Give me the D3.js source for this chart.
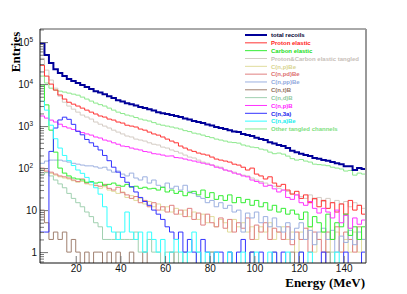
<!DOCTYPE html>
<html>
<head>
<meta charset="utf-8">
<script src="https://cdn.jsdelivr.net/npm/d3@7"></script>
<style>
  body { margin: 0; background: #fff; }
  svg { display: block; }
</style>
</head>
<body>
<div id="chart"></div>
<script>
// bins are 2 MeV wide, 4 -> 150 MeV
const binStart = 4
const binWidth = 2

const totalRecoils = [95000, 49000, 32000, 22700, 18300, 15500, 13200, 11800, 10600, 9460, 8500, 7600, 6800, 6300, 5760, 5150, 4650, 4150, 3830, 3500, 3330, 3080, 2830, 2680, 2530, 2350, 2150, 2030, 1940, 1830, 1740, 1640, 1510, 1430, 1320, 1250, 1180, 1090, 1030, 950, 900, 850, 800, 740, 720, 650, 610, 580, 530, 490, 465, 415, 383, 355, 335, 300, 260, 240, 220, 204, 193, 174, 168, 155, 150, 139, 131, 124, 111, 111, 90, 100, 95]
const protonElastic = [28000, 15500, 10000, 7200, 5500, 4400, 3700, 3330, 3000, 2680, 2400, 2150, 1940, 1740, 1640, 1470, 1390, 1250, 1180, 1050, 1000, 950, 850, 800, 720, 650, 610, 550, 490, 440, 400, 335, 300, 270, 250, 228, 215, 204, 183, 164, 155, 147, 139, 124, 118, 105, 90, 100, 72, 65, 55, 62, 44, 37, 41, 30, 24, 28, 19, 23, 15, 19, 12, 17, 11, 15, 9, 14, 8, 17, 10, 13, 8]
const carbonElastic = [9500, 3200, 800, 240, 100, 76, 65, 58, 55, 52, 46, 48, 44, 46, 39, 41, 44, 39, 37, 41, 35, 37, 33, 35, 32, 33, 30, 35, 27, 30, 25, 28, 22, 26, 28, 23, 30, 20, 26, 18, 22, 17, 23, 15, 20, 15, 18, 13, 17, 12, 15, 10, 13, 9, 11, 8, 10, 8, 6, 9, 4, 7, 5, 3, 8, 2, 5, 4, 8, 2.5, 4, 2, 4]
const elasticTangled = [41000, 21500, 12500, 8000, 5150, 3700, 3000, 2530, 2150, 1830, 1640, 1470, 1250, 1110, 1000, 900, 800, 720, 650, 580, 550, 490, 465, 440, 400, 370, 355, 316, 300, 270, 250, 228, 204, 183, 174, 155, 139, 131, 118, 111, 105, 90, 85, 80, 72, 68, 65, 58, 52, 48, 44, 39, 37, 33, 30, 28, 25, 23, 21, 19, 23, 18, 20, 16, 19, 15, 17, 14, 16, 12, 15, 13, 11]
const cnpBe = [90, 80, 75, 68, 62, 58, 55, 50, 46, 48, 42, 40, 38, 33, 36, 30, 28, 25, 27, 20, 22, 17, 19, 14, 16, 12, 14, 10, 12, 9, 11, 8, 10, 7, 9, 6, 8, 5, 7, 4, 6, 5, 3, 6, 4, 5, 3, 4, 2, 4, 3, 5, 2, 3, 4, 2, 3, 1, 3, 2, 4, 1, 2, 3, 1, 2, 3, 1, 2, 1, 3, 1, 2]
const cnpdBe = [100, 85, 80, 72, 65, 62, 58, 52, 48, 55, 44, 46, 39, 37, 41, 33, 30, 35, 26, 23, 19, 21, 15, 17, 12, 15, 10, 12, 9, 13, 8, 10, 7, 11, 6, 8.5, 4.4, 8, 5, 4, 6.5, 3.7, 6, 3, 5, 3.7, 6.5, 2, 4.4, 3, 5, 2, 3.7, 3, 2, 4, 1.5, 3, 2, 3.7, 1, 3, 2, 1, 3, 2, 4, 1, 3, 2, 1, 4, 2]
const cnppBe = [130, 147, 155, 155, 155, 147, 139, 130, 124, 118, 113, 113, 107, 100, 105, 90, 80, 85, 72, 65, 76, 58, 52, 62, 44, 52, 39, 35, 44, 33, 37, 30, 39, 28, 25, 21, 19, 15, 17, 12, 15, 11, 13, 9, 10, 3, 8.5, 6.5, 9, 5, 7, 4, 6.5, 4, 3, 5, 2, 3.7, 5, 2, 3.3, 1.5, 3, 3.7, 2, 3.3, 1, 2.4, 1.7, 3.3, 1.5, 3, 2]
const cntB = [10, 5, 2, 3, 2, 3, 1, 2, 1, 0, 1, 0, 1, 1, 0, 1, 0, 1, 0, 0, 1, 0, 0, 1, 0, 0, 0, 0, 0, 1, 0, 0, 0, 0, 0, 0, 0, 0, 1, 0, 0, 0, 0, 0, 0, 0, 0, 1, 0, 0, 0, 0, 0, 0, 0, 0, 1, 0, 0, 0, 0, 0, 0, 0, 1, 0, 0, 0, 0, 0, 0, 0, 0]
const cndB = [70, 78, 65, 52, 42, 34, 25, 19, 15, 12, 9, 7, 5, 4, 2, 2, 2, 3, 2, 2, 2, 3, 1, 1, 2, 1, 1, 0, 1, 0, 1, 0, 1, 0, 0, 1, 0, 0, 1, 0, 0, 0, 1, 0, 0, 0, 0, 1, 0, 0, 0, 0, 1, 0, 0, 0, 0, 0, 1, 0, 0, 0, 0, 0, 0, 1, 0, 0, 0, 0, 0, 0, 0]
const cnpB = [1740, 1550, 1390, 1250, 1110, 970, 900, 830, 760, 700, 650, 610, 550, 520, 465, 440, 400, 370, 335, 325, 300, 283, 270, 248, 240, 220, 215, 204, 193, 195, 178, 174, 164, 155, 147, 139, 131, 124, 118, 105, 100, 90, 85, 76, 72, 65, 62, 52, 48, 44, 37, 39, 32, 27, 30, 20, 18, 23, 15, 13, 16, 11, 8.5, 11, 9, 6.5, 10, 5, 7.5, 3.7, 6.5, 4.6, 5.8]
const cn3a = [3, 3, 250, 900, 1400, 1630, 1450, 1100, 750, 620, 480, 400, 330, 270, 200, 150, 105, 80, 60, 46, 36, 27, 20, 16, 13, 10, 8, 6, 4, 3, 2, 3, 1, 2, 1, 0, 2, 1, 0, 1, 1, 0, 1, 0, 1, 2, 0, 1, 0, 1, 0, 0, 1, 0, 1, 0, 0, 0, 1, 0, 0, 0, 0, 1, 0, 0, 0, 0, 1, 0, 0, 0, 1]
const cnaBe = [3900, 2400, 1050, 500, 300, 200, 150, 115, 90, 75, 60, 46, 34, 24, 12, 4, 3, 2, 3, 9, 3, 2, 3, 1, 3, 2, 1, 2, 0, 1, 2, 1, 0, 1, 3, 1, 0, 1, 0, 1, 0, 0, 1, 0, 0, 1, 0, 0, 1, 0, 0, 1, 0, 0, 0, 1, 0, 0, 0, 0, 1, 0, 0, 0, 0, 0, 1, 0, 0, 0, 0, 0, 0]
const otherTangled = [15500, 10600, 8000, 7200, 6800, 6450, 6100, 5760, 5450, 4900, 4400, 3940, 3530, 3240, 3000, 2680, 2400, 2150, 1990, 1830, 1740, 1600, 1470, 1390, 1320, 1210, 1110, 1050, 1000, 950, 900, 850, 780, 740, 680, 650, 610, 565, 530, 490, 465, 440, 415, 405, 393, 355, 335, 316, 307, 283, 270, 240, 220, 228, 215, 193, 168, 155, 160, 147, 139, 124, 121, 118, 114, 105, 100, 95, 85, 88, 68, 76, 72]

const seriesNames = ['total recoils', 'Proton elastic', 'Carbon elastic', 'Proton&Carbon elastic tangled', 'C(n,p)Be', 'C(n,pd)Be', 'C(n,pp)Be', 'C(n,t)B', 'C(n,d)B', 'C(n,p)B', 'C(n,3a)', 'C(n,a)Be', 'Other tangled channels']
const seriesValues = [totalRecoils, protonElastic, carbonElastic, elasticTangled, cnpBe, cnpdBe, cnppBe, cntB, cndB, cnpB, cn3a, cnaBe, otherTangled]
const seriesColors = ['#000099', '#ff3333', '#33ee33', '#d4ccc4', '#e0dc9c', '#e08080', '#9cb0e0', '#a08070', '#a0d0b0', '#ff33ff', '#3333ff', '#33ffff', '#8ce88c']
const legendTextColors = ['#000033', '#ff2222', '#22dd22', '#c8c0b8', '#d8d490', '#dd7070', '#90a8dd', '#907060', '#90c8a0', '#ff22ff', '#2222ee', '#22eeee', '#80e080']

const xTicks = [20, 40, 60, 80, 100, 120, 140]
const yDecades = [1, 10, 100, 1000, 10000, 100000]

const margin = { top: 29, left: 40, right: 41, bottom: 31 }
const W = 407
const H = 294
const width = W - margin.left - margin.right
const height = H - margin.top - margin.bottom

const svg = d3
  .select('#chart')
  .append('svg')
  .attr('width', W)
  .attr('height', H)

const g = svg
  .append('g')
  .attr('transform', 'translate(' + margin.left + ',' + margin.top + ')')

const xPositionScale = d3.scaleLinear().domain([4, 150]).range([0, width])
const yPositionScale = d3.scaleLog().domain([0.55, 2.05e5]).range([height, 0])

g.append('clipPath')
  .attr('id', 'frame-clip')
  .append('rect')
  .attr('width', width)
  .attr('height', height)

function yOf(v) {
  if (v <= 0) return height + 1
  return yPositionScale(v)
}

const line = d3
  .line()
  .x(d => xPositionScale(d.e))
  .y(d => yOf(d.v))
  .curve(d3.curveStepAfter)

const plot = g.append('g').attr('clip-path', 'url(#frame-clip)')

// draw order: light ones first, total on top of the crowd
const drawOrder = [3, 4, 5, 6, 7, 8, 12, 1, 2, 9, 10, 11, 0]
drawOrder.forEach(i => {
  const vals = seriesValues[i]
  const pts = vals.map((v, j) => ({ e: binStart + j * binWidth, v: v }))
  pts.push({ e: binStart + vals.length * binWidth, v: vals[vals.length - 1] })
  plot
    .append('path')
    .attr('class', 'hist')
    .attr('d', line(pts))
    .attr('fill', 'none')
    .attr('stroke', seriesColors[i])
    .attr('stroke-width', i === 0 ? 2 : 1)
})

// axes -------------------------------------------------------
const xAxis = d3
  .axisBottom(xPositionScale)
  .tickValues(xTicks)
  .tickSizeInner(-7)
  .tickSizeOuter(0)
  .tickPadding(2)
g.append('g')
  .attr('class', 'axis x-axis')
  .attr('transform', 'translate(0,' + height + ')')
  .call(xAxis)

const minorY = []
for (let p = -1; p <= 5; p++) {
  for (let k = 2; k <= 9; k++) {
    const v = k * Math.pow(10, p)
    if (v >= 0.55 && v <= 2.05e5) minorY.push(v)
  }
}

g.append('g')
  .attr('class', 'axis y-minor')
  .call(d3.axisLeft(yPositionScale).tickValues(minorY).tickSizeInner(-4).tickSizeOuter(0).tickFormat(''))

const yAxis = d3
  .axisLeft(yPositionScale)
  .tickValues(yDecades)
  .tickSizeInner(-8)
  .tickSizeOuter(0)
  .tickPadding(3)
  .tickFormat(d => d)
g.append('g')
  .attr('class', 'axis y-axis')
  .call(yAxis)

g.selectAll('.y-axis .tick text').each(function(d) {
  const p = Math.round(Math.log10(d))
  const t = d3.select(this)
  if (p >= 2) {
    t.text('10')
    t.attr('dx', '-4')
    t.append('tspan').attr('dy', '-4').attr('font-size', '6.5px').text(p)
  } else {
    t.text(String(d))
  }
})

g.selectAll('.axis .domain').remove()
g.selectAll('.axis .tick line').attr('stroke', '#777')
g.selectAll('.axis text')
  .attr('font-family', 'Liberation Sans, Arial, sans-serif')
  .attr('font-size', '10px')
  .attr('fill', '#111')

// frame
g.append('line').attr('x1', 0).attr('x2', width).attr('y1', 0).attr('y2', 0).attr('stroke', '#555').attr('stroke-width', 1)
g.append('line').attr('x1', width).attr('x2', width).attr('y1', 0).attr('y2', height).attr('stroke', '#999').attr('stroke-width', 2)
g.append('line').attr('x1', 0).attr('x2', 0).attr('y1', 0).attr('y2', height).attr('stroke', '#111').attr('stroke-width', 1)
g.append('line').attr('x1', 0).attr('x2', width).attr('y1', height).attr('y2', height).attr('stroke', '#111').attr('stroke-width', 1)

// axis titles
svg
  .append('text')
  .attr('transform', 'translate(20,52) rotate(-90)')
  .attr('text-anchor', 'middle')
  .attr('font-family', 'Liberation Serif, Times New Roman, serif')
  .attr('font-weight', 'bold')
  .attr('font-size', '13px')
  .text('Entries')

svg
  .append('text')
  .attr('x', 365)
  .attr('y', 287)
  .attr('text-anchor', 'end')
  .attr('font-family', 'Liberation Serif, Times New Roman, serif')
  .attr('font-weight', 'bold')
  .attr('font-size', '13px')
  .text('Energy (MeV)')

// legend
const legend = svg.append('g').attr('class', 'legend')
seriesNames.forEach((name, i) => {
  const ly = 35 + i * 7.83
  legend
    .append('line')
    .attr('x1', 245)
    .attr('x2', 267)
    .attr('y1', ly)
    .attr('y2', ly)
    .attr('stroke', seriesColors[i])
    .attr('stroke-width', i === 0 ? 2 : 1)
  legend
    .append('text')
    .attr('x', 271)
    .attr('y', ly + 2.2)
    .attr('font-family', 'Liberation Sans, Arial, sans-serif')
    .attr('font-weight', 'bold')
    .attr('font-size', '6px')
    .attr('fill', legendTextColors[i])
    .text(name)
})
</script>
</body>
</html>
